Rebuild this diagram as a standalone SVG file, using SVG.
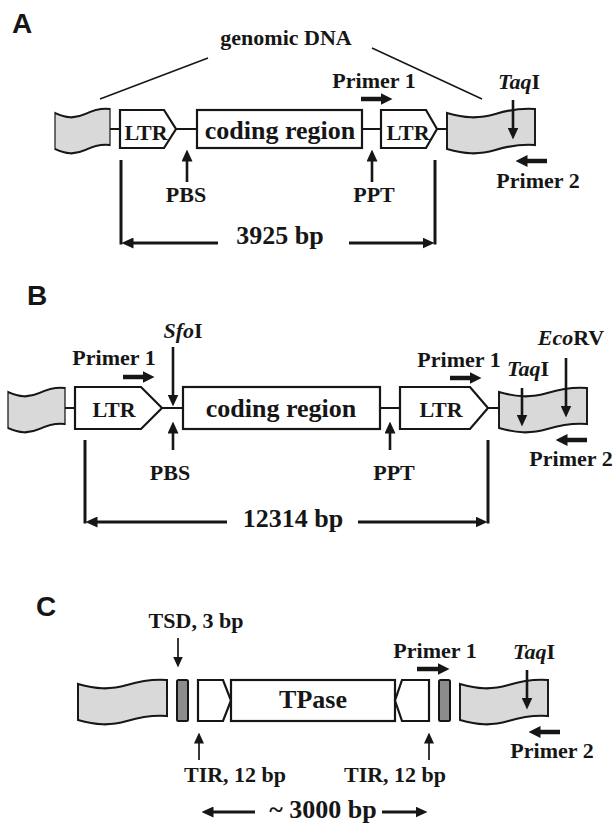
<svg xmlns="http://www.w3.org/2000/svg" xmlns:xlink="http://www.w3.org/1999/xlink" width="616" height="825" viewBox="0 0 616 825">
<style>
.t{font-family:"Liberation Serif","Times New Roman",serif;font-weight:bold;font-size:22px;fill:#161616;text-anchor:middle}
.big{font-size:26px}
.lab{font-family:"Liberation Sans",Arial,sans-serif;font-weight:bold;font-size:28px;fill:#161616}
.box{fill:#fff;stroke:#161616;stroke-width:2.2;stroke-linejoin:miter}
.flag{fill:#d9d9d9;stroke:#161616;stroke-width:2.2;vector-effect:non-scaling-stroke}
.tsd{fill:#8c8c8c;stroke:#161616;stroke-width:2}
.ln{stroke:#161616;stroke-width:2;fill:none}
.pr{stroke:#161616;stroke-width:4.5;fill:none;marker-end:url(#hl)}
.md{stroke:#161616;stroke-width:2.6;fill:none;marker-end:url(#hd)}
.th{stroke:#161616;stroke-width:1.7;fill:none;marker-end:url(#hs)}
.br{stroke:#161616;stroke-width:3;fill:none;marker-end:url(#hd)}
.bv{stroke:#161616;stroke-width:3;fill:none}
.dg{stroke:#161616;stroke-width:1.5;fill:none}
</style>
<defs>
<marker id="hl" markerUnits="userSpaceOnUse" viewBox="0 0 12 12" markerWidth="12" markerHeight="12" refX="0.5" refY="6" orient="auto"><path d="M0,0 L12,6 L0,12 z" fill="#161616"/></marker>
<marker id="hd" markerUnits="userSpaceOnUse" viewBox="0 0 12 11" markerWidth="12" markerHeight="11" refX="0.5" refY="5.5" orient="auto"><path d="M0,0 L12,5.5 L0,11 z" fill="#161616"/></marker>
<marker id="hs" markerUnits="userSpaceOnUse" viewBox="0 0 11 10" markerWidth="11" markerHeight="10" refX="0.5" refY="5" orient="auto"><path d="M0,0 L11,5 L0,10 z" fill="#161616"/></marker>
<path id="flagp" d="M0,6 C20,11 35,12 55,7 C70,3 85,1 100,2 L100,38 C85,37 70,39 55,43 C35,48 20,47 0,42 Z"/>
</defs>

<!-- Panel labels -->
<text class="lab" x="12" y="33">A</text>
<text class="lab" x="27" y="305">B</text>
<text class="lab" x="36" y="616">C</text>

<!-- ===== Panel A ===== -->
<g id="A-genomic"><text class="t" x="286" y="45">genomic DNA</text></g>
<g id="A-flagL"><use xlink:href="#flagp" class="flag" transform="translate(55,107) scale(0.55,1)"/></g>
<g id="A-LTR1"><polygon class="box" points="120,110 164,110 176,129 164,148 120,148"/><text class="t" x="146" y="140">LTR</text></g>
<g id="A-coding"><rect class="box" x="197" y="110" width="165" height="38"/><text class="t big" x="280" y="139">coding region</text></g>
<g id="A-LTR2"><polygon class="box" points="381,110 426,110 437,129 426,148 381,148"/><text class="t" x="408" y="140">LTR</text></g>
<g id="A-flagR"><use xlink:href="#flagp" class="flag" transform="translate(447,107) scale(0.88,1)"/></g>
<g id="A-primer1"><text class="t" x="374" y="88">Primer 1</text></g>
<g id="A-taqI"><text class="t" x="519" y="89"><tspan font-style="italic">Taq</tspan>I</text></g>
<g id="A-primer2"><text class="t" x="538" y="188">Primer 2</text></g>
<g id="A-PBS"><text class="t" x="186" y="202">PBS</text></g>
<g id="A-PPT"><text class="t" x="374" y="202">PPT</text></g>
<g id="A-size"><text class="t big" x="280" y="244">3925 bp</text></g>

<!-- ===== Panel B ===== -->
<g id="B-flagL"><use xlink:href="#flagp" class="flag" transform="translate(8,386) scale(0.57,1)"/></g>
<g id="B-LTR1"><polygon class="box" points="75,387 141,387 162,408 141,429 75,429"/><text class="t" x="114" y="417">LTR</text></g>
<g id="B-coding"><rect class="box" x="183" y="387" width="197" height="42"/><text class="t big" x="281" y="417">coding region</text></g>
<g id="B-LTR2"><polygon class="box" points="400,387 470,387 488,408 470,429 400,429"/><text class="t" x="441" y="417">LTR</text></g>
<g id="B-flagR"><use xlink:href="#flagp" class="flag" transform="translate(499,386) scale(0.88,1)"/></g>
<g id="B-sfoI"><text class="t" x="183" y="338"><tspan font-style="italic">Sfo</tspan>I</text></g>
<g id="B-primer1L"><text class="t" x="114" y="365">Primer 1</text></g>
<g id="B-primer1R"><text class="t" x="459" y="367">Primer 1</text></g>
<g id="B-taqI"><text class="t" x="528" y="376"><tspan font-style="italic">Taq</tspan>I</text></g>
<g id="B-ecoRV"><text class="t" x="571" y="345"><tspan font-style="italic">Eco</tspan>RV</text></g>
<g id="B-primer2"><text class="t" x="571" y="466">Primer 2</text></g>
<g id="B-PBS"><text class="t" x="170" y="480">PBS</text></g>
<g id="B-PPT"><text class="t" x="394" y="480">PPT</text></g>
<g id="B-size"><text class="t big" x="293" y="527">12314 bp</text></g>

<!-- ===== Panel C ===== -->
<g id="C-flagL"><use xlink:href="#flagp" class="flag" transform="translate(78,678) scale(0.89,1)"/></g>
<g id="C-TSD1"><rect class="tsd" x="177" y="680" width="11" height="41" rx="1.5"/></g>
<g id="C-TIR1"><polygon class="box" points="198,680 223,680 231,700.5 223,721 198,721"/></g>
<g id="C-TPase"><rect class="box" x="231" y="680" width="164" height="41"/><text class="t big" x="313" y="708">TPase</text></g>
<g id="C-TIR2"><polygon class="box" points="402,680 429,680 429,721 402,721 395,700.5"/></g>
<g id="C-TSD2"><rect class="tsd" x="439" y="680" width="11" height="41" rx="1.5"/></g>
<g id="C-flagR"><use xlink:href="#flagp" class="flag" transform="translate(460,678) scale(0.88,1)"/></g>
<g id="C-TSDlabel"><text class="t" x="196" y="628">TSD, 3 bp</text></g>
<g id="C-primer1"><text class="t" x="435" y="658">Primer 1</text></g>
<g id="C-taqI"><text class="t" x="534" y="659"><tspan font-style="italic">Taq</tspan>I</text></g>
<g id="C-primer2"><text class="t" x="552" y="758">Primer 2</text></g>
<g id="C-TIRL"><text class="t" x="235" y="782">TIR, 12 bp</text></g>
<g id="C-TIRR"><text class="t" x="395" y="782">TIR, 12 bp</text></g>
<g id="C-size"><text class="t big" x="323" y="818">~ 3000 bp</text></g>

<!-- ===== Connectors ===== -->
<g id="connectors">
<!-- A -->
<line class="dg" x1="100" y1="99" x2="208" y2="58"/>
<line class="dg" x1="372" y1="48" x2="482" y2="99"/>
<line class="ln" x1="110" y1="129" x2="120" y2="129"/>
<line class="ln" x1="176" y1="129" x2="197" y2="129"/>
<line class="ln" x1="362" y1="129" x2="381" y2="129"/>
<line class="ln" x1="437" y1="129" x2="447" y2="129"/>
<line class="pr" x1="361" y1="99" x2="381" y2="99"/>
<line class="pr" x1="547" y1="161" x2="527" y2="161"/>
<line class="md" x1="513" y1="100" x2="513" y2="128"/>
<line class="md" x1="187" y1="182" x2="187" y2="161"/>
<line class="md" x1="372" y1="182" x2="372" y2="161"/>
<line class="bv" x1="121" y1="160" x2="121" y2="244.5"/>
<line class="bv" x1="435" y1="160" x2="435" y2="244.5"/>
<line class="br" x1="218" y1="243" x2="133" y2="243"/>
<line class="br" x1="349" y1="243" x2="423" y2="243"/>
<!-- B -->
<line class="ln" x1="65" y1="408" x2="75" y2="408"/>
<line class="ln" x1="162" y1="408" x2="183" y2="408"/>
<line class="ln" x1="380" y1="408" x2="400" y2="408"/>
<line class="ln" x1="488" y1="408" x2="499" y2="408"/>
<line class="pr" x1="123" y1="377" x2="143" y2="377"/>
<line class="pr" x1="450" y1="378" x2="470" y2="378"/>
<line class="pr" x1="587" y1="440" x2="567" y2="440"/>
<line class="md" x1="173" y1="347" x2="173" y2="395"/>
<line class="md" x1="173" y1="450" x2="173" y2="433"/>
<line class="md" x1="390" y1="450" x2="390" y2="433"/>
<line class="md" x1="522" y1="388" x2="522" y2="415"/>
<line class="md" x1="566" y1="358" x2="566" y2="406"/>
<line class="bv" x1="85" y1="440" x2="85" y2="523.5"/>
<line class="bv" x1="488" y1="440" x2="488" y2="523.5"/>
<line class="br" x1="227" y1="522" x2="97" y2="522"/>
<line class="br" x1="358" y1="522" x2="476" y2="522"/>
<!-- C -->
<line class="th" x1="178" y1="638" x2="178" y2="657"/>
<line class="th" x1="199" y1="760" x2="199" y2="743"/>
<line class="th" x1="429" y1="760" x2="429" y2="743"/>
<line class="pr" x1="417" y1="669" x2="438" y2="669"/>
<line class="pr" x1="560" y1="732" x2="540" y2="732"/>
<line class="md" x1="527" y1="670" x2="527" y2="698"/>
<line class="br" x1="255" y1="812" x2="213" y2="812"/>
<line class="br" x1="382" y1="812" x2="416" y2="812"/>
</g>
</svg>
